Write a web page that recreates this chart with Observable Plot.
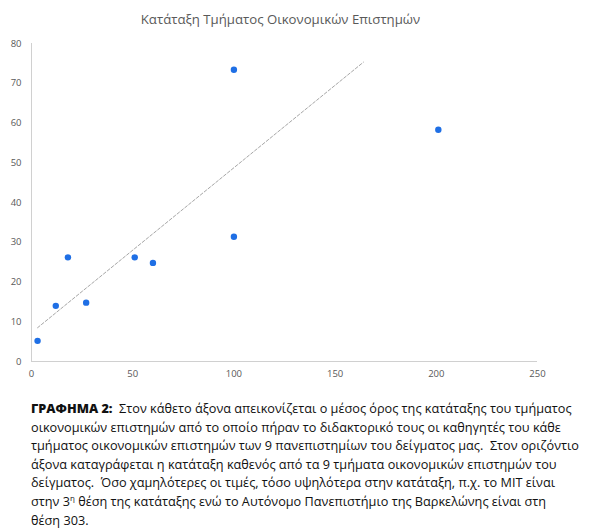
<!DOCTYPE html>
<html>
<head>
<meta charset="utf-8">
<script src="https://cdn.jsdelivr.net/npm/d3@7"></script>
<script src="https://cdn.jsdelivr.net/npm/@observablehq/plot@0.6"></script>
<style>
  body { margin: 0; background: #fff; width: 589px; height: 528px; overflow: hidden; }
  #title { height: 30px; line-height: 38px; text-align: center; font-family: "Open Sans", sans-serif; font-size: 13.2px; color: #595959; padding-right: 28px; }
  #chart svg { display: block; }
  #caption { margin-top: 14px; padding-left: 31px; font-family: "Open Sans", sans-serif; font-size: 12.7px; line-height: 18.6px; color: #111; white-space: nowrap; }
  #caption b { font-weight: 800; }
  #caption sup { font-size: 8px; line-height: 0; vertical-align: 5px; }
</style>
</head>
<body>
<div id="title">Κατάταξη Τμήματος Οικονομικών Επιστημών</div>
<div id="chart"></div>
<div id="caption"><b>ΓΡΑΦΗΜΑ 2:</b>&nbsp; Στον κάθετο άξονα απεικονίζεται ο μέσος όρος της κατάταξης του τμήματος<br>οικονομικών επιστημών από το οποίο πήραν το διδακτορικό τους οι καθηγητές του κάθε<br>τμήματος οικονομικών επιστημών των 9 πανεπιστημίων του δείγματος μας.&nbsp; Στον οριζόντιο<br>άξονα καταγράφεται η κατάταξη καθενός από τα 9 τμήματα οικονομικών επιστημών του<br>δείγματος.&nbsp; Όσο χαμηλότερες οι τιμές, τόσο υψηλότερα στην κατάταξη, π.χ. το MIT είναι<br>στην 3<sup>η</sup> θέση της κατάταξης ενώ το Αυτόνομο Πανεπιστήμιο της Βαρκελώνης είναι στη<br>θέση 303.</div>
<script>
const deptRank = [3, 12, 18, 27, 51, 60, 100, 100, 201];
const phdRankMean = [5.2, 14.0, 26.2, 14.8, 26.2, 24.8, 31.4, 73.4, 58.3];
const trendX = [3, 164];
const trendY = [8.5, 75.3];
const xTicks = [0, 50, 100, 150, 200, 250];
const yTicks = [0, 10, 20, 30, 40, 50, 60, 70, 80];

const points = deptRank.map((x, i) => ({x, y: phdRankMean[i]}));
const trend = trendX.map((x, i) => ({x, y: trendY[i]}));

const chart = Plot.plot({
  width: 589,
  height: 355,
  marginTop: 13,
  marginBottom: 24,
  marginLeft: 31,
  marginRight: 52,
  style: { fontFamily: "'Open Sans', sans-serif", fontSize: "9.5px", color: "#595959", background: "#fff" },
  x: { domain: [0, 250] },
  y: { domain: [0, 80] },
  marks: [
    Plot.ruleX([0], { stroke: "#d0d0d0", strokeWidth: 1 }),
    Plot.ruleY([0], { stroke: "#d0d0d0", strokeWidth: 1 }),
    Plot.axisX(xTicks, { tickSize: 0, tickPadding: 9, label: null, fill: "#595959" }),
    Plot.axisY(yTicks, { tickSize: 0, tickPadding: 10, label: null, fill: "#595959" }),
    Plot.line(trend, { x: "x", y: "y", stroke: "#a6a6a6", strokeWidth: 1, strokeDasharray: "3,2" }),
    Plot.dot(points, { x: "x", y: "y", r: 3.2, fill: "#1f6fe5", stroke: "none" })
  ]
});
document.getElementById("chart").appendChild(chart);
</script>
</body>
</html>
